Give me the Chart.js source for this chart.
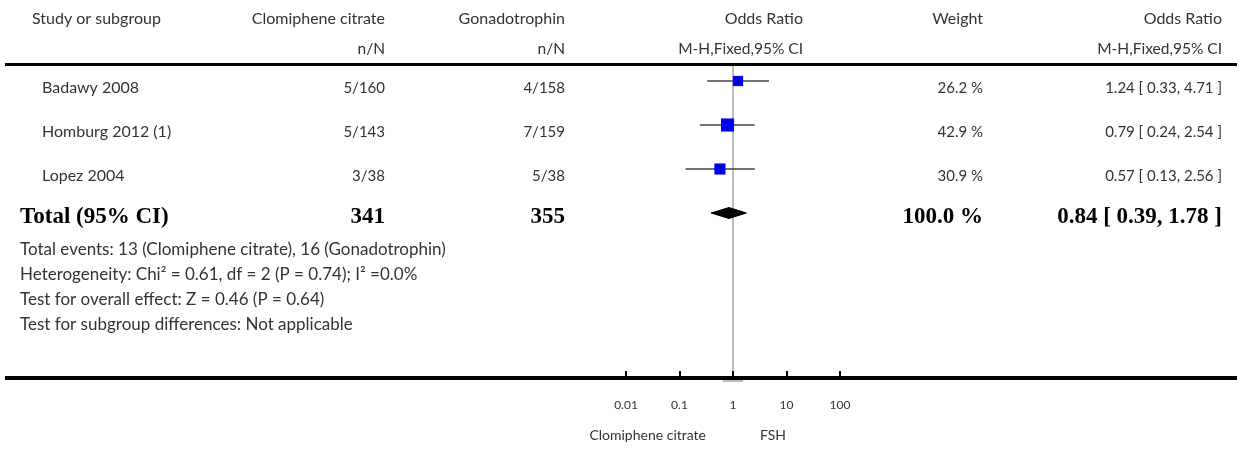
<!DOCTYPE html>
<html>
<head>
<meta charset="utf-8">
<script src="https://cdn.jsdelivr.net/npm/chart.js@4.4.0/dist/chart.umd.min.js"></script>
<style>
html,body{margin:0;padding:0;background:#fff;overflow:hidden}
#wrap{position:relative;width:1239px;height:449px}
</style>
</head>
<body>
<div id="wrap"><canvas id="c" width="1239" height="449"></canvas></div>
<script>
// ---- data ----
const studies = ["Badawy 2008", "Homburg 2012 (1)", "Lopez 2004"];
const clomipheneNN = ["5/160", "5/143", "3/38"];
const gonadotrophinNN = ["4/158", "7/159", "5/38"];
const oddsRatios = [1.24, 0.79, 0.57];
const ciLower = [0.33, 0.24, 0.13];
const ciUpper = [4.71, 2.54, 2.56];
const weights = [26.2, 42.9, 30.9];
const totalLabel = "Total (95% CI)";
const totalN = [341, 355];
const totalOR = [0.84, 0.39, 1.78];   // estimate, lower, upper
const totalWeight = 100.0;
const footnotes = [
  "Total events: 13 (Clomiphene citrate), 16 (Gonadotrophin)",
  "Heterogeneity: Chi\u00B2 = 0.61, df = 2 (P = 0.74); I\u00B2 =0.0%",
  "Test for overall effect: Z = 0.46 (P = 0.64)",
  "Test for subgroup differences: Not applicable"
];
const headerRow1 = ["Study or subgroup", "Clomiphene citrate", "Gonadotrophin", "Odds Ratio", "Weight", "Odds Ratio"];
const headerRow2 = ["", "n/N", "n/N", "M-H,Fixed,95% CI", "", "M-H,Fixed,95% CI"];
const xTickValues = [0.01, 0.1, 1, 10, 100];
const xTickLabels = ["0.01", "0.1", "1", "10", "100"];
const axisCaptions = ["Clomiphene citrate", "FSH"];

// ---- style / layout ----
const REG = "Lato, 'Open Sans', sans-serif";
const BOLD = "'Liberation Serif', 'DejaVu Serif', serif";
const TXT = "#333";
const colRight = [null, 385, 565, 803, 983, 1222];
const studyX = 42, headerX = 32, footX = 20;
const rowBaselineOffset = 12;

const fmt2 = v => v.toFixed(2);
const orText = (o, l, h) => `${fmt2(o)} [ ${fmt2(l)}, ${fmt2(h)} ]`;
const totalRow = studies.length;

const ciData = [];
studies.forEach((s, i) => {
  ciData.push({x: ciLower[i], y: i}, {x: ciUpper[i], y: i}, {x: ciUpper[i], y: null});
});
const squareData = studies.map((s, i) => ({x: oddsRatios[i], y: i}));
const squareRadius = weights.map(w => 2.0 * Math.sqrt(w) / Math.SQRT2);
const dh = 0.125;
const diamondData = [
  {x: totalOR[1], y: totalRow}, {x: totalOR[0], y: totalRow - dh},
  {x: totalOR[2], y: totalRow}, {x: totalOR[0], y: totalRow + dh},
  {x: totalOR[1], y: totalRow}
];

const decorPlugin = {
  id: 'decor',
  beforeDatasetsDraw(chart) {
    const ctx = chart.ctx, xs = chart.scales.x;
    const x1 = Math.round(xs.getPixelForValue(1));
    ctx.save();
    ctx.fillStyle = '#bdbdbd';
    ctx.fillRect(x1 - 1, 66, 2, 313);
    ctx.fillRect(x1 - 10, 380, 20, 2);
    ctx.restore();
  },
  afterDraw(chart) {
    const ctx = chart.ctx, xs = chart.scales.x, ys = chart.scales.y;
    ctx.save();
    // rules
    ctx.fillStyle = '#000';
    ctx.fillRect(5, 63, 1232, 3);
    ctx.fillRect(5, 376, 1232, 4);
    xTickValues.forEach(v => {
      const px = Math.round(xs.getPixelForValue(v));
      ctx.fillRect(px - 1, 371, 2, 5);
    });
    // headers
    ctx.fillStyle = TXT;
    ctx.font = `16px ${REG}`;
    ctx.textBaseline = 'alphabetic';
    headerRow1.forEach((t, i) => {
      if (i === 0) { ctx.textAlign = 'left'; ctx.fillText(t, headerX, 24); }
      else { ctx.textAlign = 'right'; ctx.fillText(t, colRight[i], 24); }
    });
    ctx.font = `15.5px ${REG}`;
    headerRow2.forEach((t, i) => {
      if (!t) return;
      ctx.textAlign = 'right'; ctx.fillText(t, colRight[i], 54);
    });
    // study rows
    studies.forEach((s, i) => {
      const y = ys.getPixelForValue(i) + rowBaselineOffset;
      ctx.font = `16px ${REG}`;
      ctx.textAlign = 'left'; ctx.fillText(s, studyX, y);
      ctx.font = `15px ${REG}`;
      ctx.textAlign = 'right';
      ctx.fillText(clomipheneNN[i], colRight[1], y);
      ctx.fillText(gonadotrophinNN[i], colRight[2], y);
      ctx.fillText(weights[i].toFixed(1) + ' %', colRight[4], y);
      ctx.fillText(orText(oddsRatios[i], ciLower[i], ciUpper[i]), colRight[5], y);
    });
    // total row
    const ty = ys.getPixelForValue(totalRow) + 10;
    ctx.fillStyle = '#000';
    ctx.font = `bold 23px ${BOLD}`;
    ctx.textAlign = 'left'; ctx.fillText(totalLabel, footX, ty);
    ctx.textAlign = 'right';
    ctx.fillText(String(totalN[0]), colRight[1], ty);
    ctx.fillText(String(totalN[1]), colRight[2], ty);
    ctx.fillText(totalWeight.toFixed(1) + ' %', colRight[4], ty);
    ctx.fillText(orText(totalOR[0], totalOR[1], totalOR[2]), colRight[5], ty);
    // footnotes
    ctx.fillStyle = TXT;
    ctx.font = `17px ${REG}`;
    ctx.textAlign = 'left';
    footnotes.forEach((f, i) => ctx.fillText(f, footX, 255 + 25 * i));
    // axis captions
    ctx.font = `14px ${REG}`;
    const x1 = xs.getPixelForValue(1);
    ctx.textAlign = 'right'; ctx.fillText(axisCaptions[0], x1 - 27, 440);
    ctx.textAlign = 'left'; ctx.fillText(axisCaptions[1], x1 + 27, 440);
    ctx.restore();
  }
};

function build() {
  new Chart(document.getElementById('c'), {
    type: 'scatter',
    data: {
      datasets: [
        {
          type: 'line', data: ciData, showLine: true, spanGaps: false,
          borderColor: '#444', borderWidth: 1.5, pointRadius: 0, tension: 0, fill: false, order: 3
        },
        {
          type: 'line', data: diamondData, showLine: true,
          borderColor: '#000', borderWidth: 1, backgroundColor: '#000',
          fill: 'shape', pointRadius: 0, tension: 0, order: 2
        },
        {
          data: squareData, pointStyle: 'rect', pointRadius: squareRadius,
          backgroundColor: '#0000ff', borderWidth: 0, order: 1
        },
        {
          data: squareData, pointStyle: 'line', rotation: 90, pointRadius: 3,
          borderColor: '#000', borderWidth: 1, order: 0
        }
      ]
    },
    options: {
      responsive: false, animation: false, devicePixelRatio: 1,
      events: [],
      layout: { padding: { left: 626, right: 399, top: 66, bottom: 0 } },
      plugins: { legend: { display: false }, tooltip: { enabled: false } },
      scales: {
        x: {
          type: 'logarithmic', min: xTickValues[0], max: xTickValues[xTickValues.length - 1],
          position: 'bottom',
          afterBuildTicks: s => { s.ticks = xTickValues.map(v => ({ value: v })); },
          afterFit: s => { s.height = 71; },
          grid: { display: false, drawTicks: false },
          border: { display: false },
          ticks: {
            autoSkip: false, maxRotation: 0, padding: 20, color: TXT,
            font: { family: REG, size: 12 },
            callback: (v, i) => xTickLabels[i]
          }
        },
        y: { type: 'linear', min: -0.341, max: 6.75, reverse: true, display: false }
      }
    },
    plugins: [decorPlugin]
  });
}
if (document.fonts && document.fonts.load) {
  Promise.all([document.fonts.load("15px Lato"), document.fonts.load("bold 23px 'Liberation Serif'")]).then(build, build);
} else build();
</script>
</body>
</html>
